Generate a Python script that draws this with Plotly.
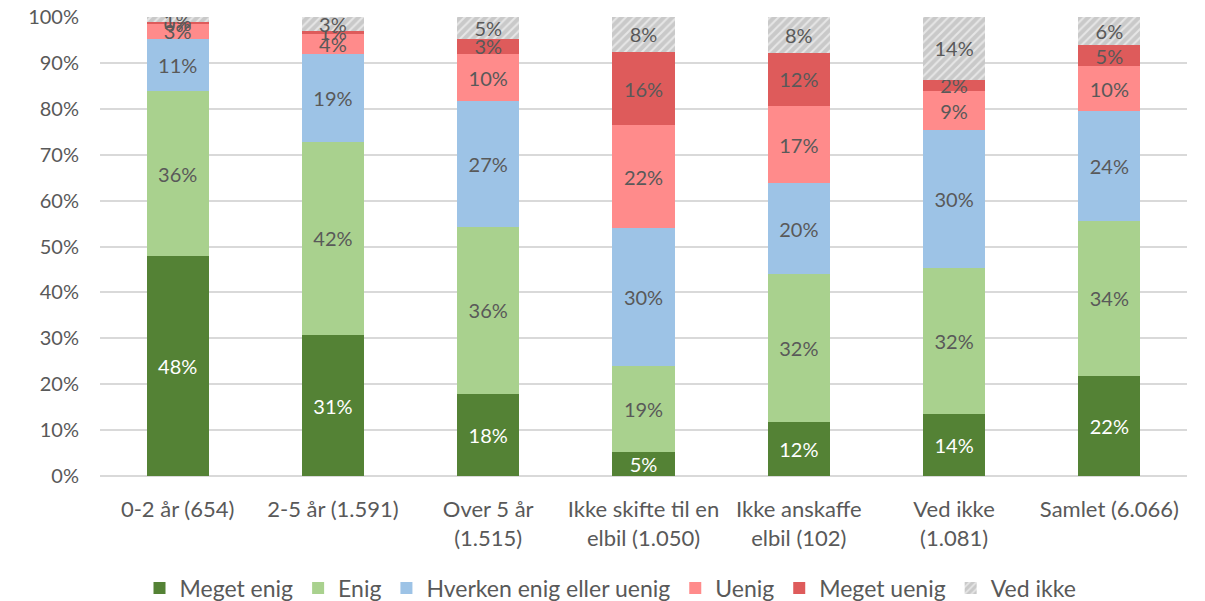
import plotly.graph_objects as go

categories = ["0-2 år (654)", "2-5 år (1.591)", "Over 5 år<br>(1.515)", "Ikke skifte til en<br>elbil (1.050)",
              "Ikke anskaffe<br>elbil (102)", "Ved ikke<br>(1.081)", "Samlet (6.066)"]

meget_enig = [47.9, 30.7, 17.9, 5.2, 11.8, 13.6, 21.8]
enig = [35.9, 42.1, 36.4, 18.8, 32.2, 31.8, 33.8]
hverken = [11.4, 19.1, 27.3, 30.0, 19.8, 29.9, 23.9]
uenig = [3.3, 4.4, 10.4, 22.4, 16.8, 8.6, 9.8]
meget_uenig = [0.4, 0.7, 3.3, 16.0, 11.6, 2.4, 4.6]
ved_ikke = [1.1, 3.0, 4.7, 7.6, 7.8, 13.7, 6.1]

series = [
    ("Meget enig", meget_enig, "#548235", "white"),
    ("Enig", enig, "#A9D18E", "#595959"),
    ("Hverken enig eller uenig", hverken, "#9DC3E6", "#595959"),
    ("Uenig", uenig, "#FF8B8B", "#595959"),
    ("Meget uenig", meget_uenig, "#DE5B5B", "#595959"),
    ("Ved ikke", ved_ikke, "#D0D0D0", "#595959"),
]

FONT = "Lato"
fig = go.Figure()
for name, vals, color, tcol in series:
    marker = dict(color=color, line=dict(width=0))
    if name == "Ved ikke":
        marker = dict(color="#C9C9C9", line=dict(width=0),
                      pattern=dict(shape="/", fgcolor="#E6E6E6", bgcolor="#C9C9C9",
                                   size=6, solidity=0.35, fillmode="replace"))
    fig.add_trace(go.Bar(
        name=name, x=categories, y=vals, marker=marker,
        text=[f"{v:.0f}%" for v in vals], textposition="inside",
        insidetextanchor="middle", textangle=0,
        textfont=dict(color=tcol, size=20, family=FONT),
        hoverinfo="skip",
    ))

fig.update_layout(
    barmode="stack", bargap=0.6,
    width=1205, height=601,
    margin=dict(l=92, r=26, t=9, b=133),
    plot_bgcolor="white", paper_bgcolor="white",
    font=dict(family=FONT, color="#595959", size=20),
    uniformtext=dict(minsize=20, mode="show"),
    legend=dict(orientation="h", x=0.5, xanchor="center", xref="container",
                y=0.035, yanchor="middle", yref="container",
                font=dict(size=23, color="#595959"), traceorder="normal",
                itemwidth=30, tracegroupgap=0),
    xaxis=dict(tickfont=dict(size=22, color="#595959"), showline=False, ticks="",
               automargin=False, ticklabelstandoff=18),
    yaxis=dict(range=[0, 100], dtick=10, ticksuffix="%", showgrid=True, gridcolor="#D9D9D9",
               gridwidth=1.5, zeroline=True, zerolinecolor="#D9D9D9", zerolinewidth=1.5,
               tickfont=dict(size=20, color="#595959"), ticks="", ticklabelstandoff=20,
               ticklabeloverflow="allow", automargin=False),
)

fig.write_html("out.html")
